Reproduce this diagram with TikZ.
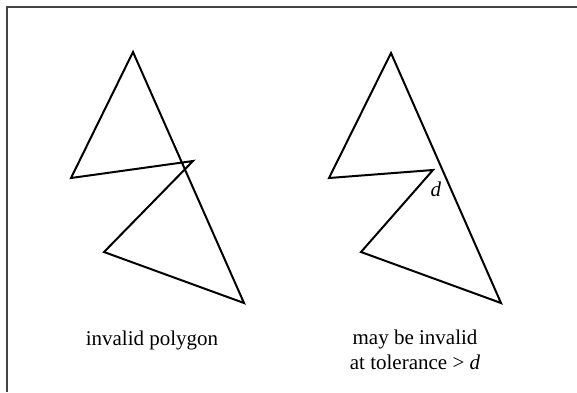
\documentclass[tikz,border=0pt]{standalone}
\usepackage{fontspec}
\setmainfont{Liberation Serif}
\usepackage{tikz}
\usetikzlibrary{positioning}
\definecolor{frameGray}{HTML}{444444}
\tikzset{
  polyline/.style={draw=black, line width=2pt, line join=miter},
  marco/.style={draw=frameGray, line width=2.2pt},
  etiqueta/.style={align=center, font=\fontsize{21}{25}\selectfont, inner sep=0pt},
}

\begin{document}
\begin{tikzpicture}[x=1pt, y=-1pt]
\useasboundingbox (0,0) rectangle (577,392);
\coordinate (esq) at (7,7);
\draw[marco] (7,392) -- (esq) -- (577,7);

% invalid polygon
\coordinate (a1) at (133,52);
\coordinate (a2) at (71,178);
\coordinate (a3) at (193,161);
\coordinate (a4) at (104,252);
\coordinate (a5) at (244,303);
\draw[polyline] (a1) -- (a2) -- (a3) -- (a4) -- (a5) -- cycle;
\node[etiqueta] (izq) at (152,340) {invalid polygon};

% near-touching polygon
\coordinate (b1) at (391,53);
\coordinate (b2) at (329,178);
\coordinate (b3) at (433,170);
\coordinate (b4) at (361,252);
\coordinate (b5) at (501,303);
\draw[polyline] (b1) -- (b2) -- (b3) -- (b4) -- (b5) -- cycle;
\node[etiqueta] (dist) at (436,189) {\textit{d}};
\node[etiqueta] (der) at (415,350) {may be invalid\\at tolerance > \textit{d}};
\end{tikzpicture}
\end{document}
